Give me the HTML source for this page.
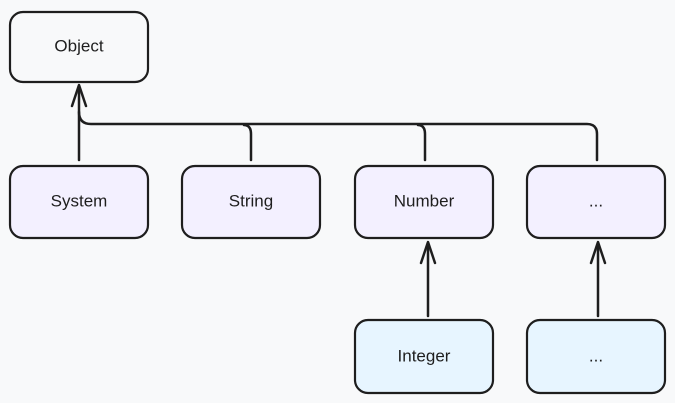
<!DOCTYPE html>
<html><head><style>
html,body{margin:0;padding:0;background:#f8f9fa;}
svg{display:block;}
text{font-family:"Liberation Sans",sans-serif;font-size:17px;fill:#1e1e1e;text-anchor:middle;dominant-baseline:middle;}
</style></head><body>
<svg width="675" height="403" viewBox="0 0 675 403" xmlns="http://www.w3.org/2000/svg">
<rect width="675" height="403" fill="#f8f9fa"/>
<g stroke="#1e1e1e" stroke-width="2.5" fill="none" stroke-linecap="round" stroke-linejoin="round">
  <path d="M79 160 L79 86"/>
  <path d="M72 106 L79 85 L86 106"/>
  <path d="M79 112 Q79 124 91 124 L587 124 Q597 124 597 134 L597 160"/>
  <path d="M244 125 Q251 125 251 134 L251 160"/>
  <path d="M418 125 Q425 125 425 134 L425 160"/>
  <path d="M428 316 L428 243"/>
  <path d="M421 263 L428 242 L435 263"/>
  <path d="M598 316 L598 243"/>
  <path d="M591 263 L598 242 L605 263"/>
</g>
<g stroke="#1e1e1e" stroke-width="2.2">
  <rect x="10" y="12" width="138" height="70" rx="13" fill="#f8f9fa"/>
  <rect x="10" y="166" width="138" height="72" rx="13" fill="#f3f0ff"/>
  <rect x="182" y="166" width="138" height="72" rx="13" fill="#f3f0ff"/>
  <rect x="355" y="166" width="138" height="72" rx="13" fill="#f3f0ff"/>
  <rect x="527" y="166" width="138" height="72" rx="13" fill="#f3f0ff"/>
  <rect x="355" y="320" width="138" height="73" rx="13" fill="#e7f5ff"/>
  <rect x="527" y="320" width="138" height="73" rx="13" fill="#e7f5ff"/>
</g>
<text x="79" y="47">Object</text>
<text x="79" y="202">System</text>
<text x="251" y="202">String</text>
<text x="424" y="202">Number</text>
<text x="596" y="202">...</text>
<text x="424" y="357">Integer</text>
<text x="596" y="357">...</text>
</svg>
</body></html>
